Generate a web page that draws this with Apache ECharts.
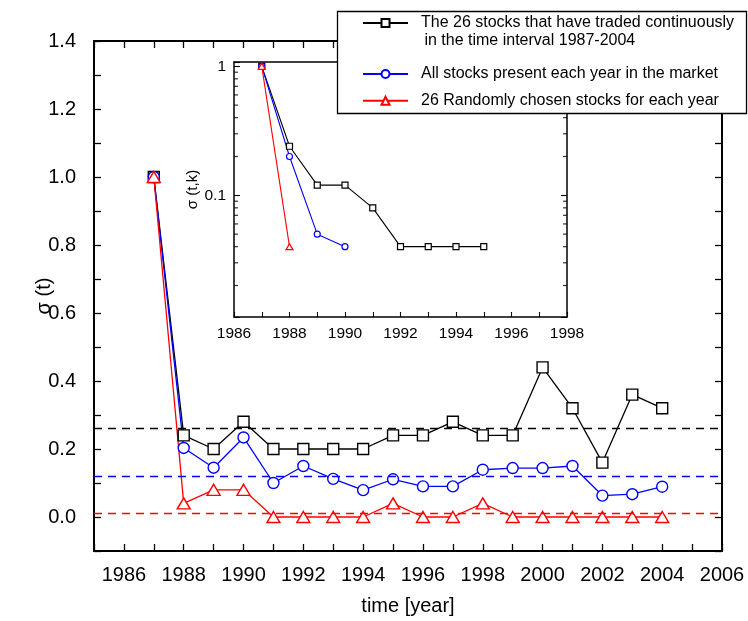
<!DOCTYPE html>
<html>
<head>
<meta charset="utf-8">
<script src="https://cdn.jsdelivr.net/npm/echarts@6/dist/echarts.min.js"></script>
<style>
  html, body { margin: 0; padding: 0; background: #fff; }
  #chart { width: 748px; height: 621px; }
</style>
</head>
<body>
<div id="chart"></div>
<script>
// main panel
const years = [1987, 1988, 1989, 1990, 1991, 1992, 1993, 1994, 1995, 1996, 1997, 1998, 1999, 2000, 2001, 2002, 2003, 2004];
const fixed26 = [1.0, 0.24, 0.20, 0.28, 0.20, 0.20, 0.20, 0.20, 0.24, 0.24, 0.28, 0.24, 0.24, 0.44, 0.32, 0.16, 0.36, 0.32];
const allStocks = [1.0, 0.203, 0.145, 0.234, 0.10, 0.150, 0.112, 0.079, 0.111, 0.090, 0.090, 0.139, 0.144, 0.144, 0.150, 0.063, 0.067, 0.089];
const random26 = [1.0, 0.04, 0.08, 0.08, 0, 0, 0, 0, 0.04, 0, 0, 0.04, 0, 0, 0, 0, 0, 0];
const meanFixed = 0.256;
const meanAll = 0.124;
const meanRandom = 0.015;

// inset (log scale)
const insetYearsFixed = [1987, 1988, 1989, 1990, 1991, 1992, 1993, 1994, 1995];
const insetFixed = [1.0, 0.24, 0.12, 0.12, 0.08, 0.04, 0.04, 0.04, 0.04];
const insetYearsAll = [1987, 1988, 1989, 1990];
const insetAll = [1.0, 0.20, 0.05, 0.04];
const insetYearsRandom = [1987, 1988];
const insetRandom = [1.0, 0.04];
const logMinorTicks = [0.02, 0.03, 0.04, 0.05, 0.06, 0.07, 0.08, 0.09, 0.2, 0.3, 0.4, 0.5, 0.6, 0.7, 0.8, 0.9];

const names = [
  'The 26 stocks that have traded continuously',
  'All stocks present each year in the market',
  '26 Randomly chosen stocks for each year'
];
const colors = ['#000000', '#0000ff', '#ff0000'];

const FONT = 'Liberation Sans, Arial, sans-serif';

function pairs(xs, ys) {
  return xs.map((x, i) => [x, ys[i]]);
}

const chart = echarts.init(document.getElementById('chart'));

function mainSeries(idx, vals, symbol, size, mean) {
  return {
    name: names[idx],
    type: 'line',
    xAxisIndex: 0,
    yAxisIndex: 0,
    data: pairs(years, vals),
    symbol: symbol,
    symbolSize: size,
    showAllSymbol: true,
    lineStyle: { color: colors[idx], width: 1.3 },
    itemStyle: { color: '#fff', borderColor: colors[idx], borderWidth: 1.4 },
    emphasis: { disabled: true },
    animation: false,
    markLine: {
      silent: true,
      symbol: 'none',
      label: { show: false },
      lineStyle: { color: colors[idx], type: [8, 6], width: 1.4 },
      data: [{ yAxis: mean }]
    }
  };
}

function insetSeries(idx, xs, vals, symbol, size) {
  return {
    name: names[idx] + ' (inset)',
    type: 'line',
    xAxisIndex: 2,
    yAxisIndex: 2,
    data: pairs(xs, vals),
    symbol: symbol,
    symbolSize: size,
    showAllSymbol: true,
    lineStyle: { color: colors[idx], width: 1.1 },
    itemStyle: { color: '#fff', borderColor: colors[idx], borderWidth: 1.2 },
    emphasis: { disabled: true },
    animation: false
  };
}

function minorTickSeries(xVal, offset, yIdx) {
  return {
    type: 'scatter',
    xAxisIndex: 2,
    yAxisIndex: yIdx,
    data: logMinorTicks.map(v => [xVal, v]),
    symbol: 'rect',
    symbolSize: [4, 1.2],
    symbolOffset: [offset, 0],
    itemStyle: { color: '#000' },
    silent: true,
    clip: false,
    animation: false
  };
}

const option = {
  backgroundColor: '#fff',
  animation: false,
  textStyle: { fontFamily: FONT },
  grid: [
    { left: 94, right: 26, top: 41, bottom: 70 },
    { left: 234, top: 62, width: 333, height: 255 }
  ],
  xAxis: [
    {
      type: 'value', gridIndex: 0, min: 1985, max: 2006, interval: 1,
      name: 'time [year]', nameLocation: 'middle', nameGap: 45, nameMoveOverlap: false,
      nameTextStyle: { fontSize: 20, color: '#000', fontFamily: FONT },
      axisLine: { onZero: false, lineStyle: { color: '#000', width: 2 } },
      axisTick: { inside: true, length: 7, lineStyle: { color: '#000', width: 1.3 } },
      axisLabel: {
        fontSize: 20, color: '#000', margin: 14, fontFamily: FONT,
        formatter: v => (v % 2 === 0 ? String(v) : '')
      },
      splitLine: { show: false }
    },
    {
      type: 'value', gridIndex: 0, position: 'top', min: 1985, max: 2006, interval: 1,
      axisLine: { onZero: false, lineStyle: { color: '#000', width: 2 } },
      axisTick: { inside: true, length: 7, lineStyle: { color: '#000', width: 1.3 } },
      axisLabel: { show: false },
      splitLine: { show: false }
    },
    {
      type: 'value', gridIndex: 1, min: 1986, max: 1998, interval: 1,
      axisLine: { onZero: false, lineStyle: { color: '#000', width: 1.5 } },
      axisTick: { inside: true, length: 5, lineStyle: { color: '#000', width: 1.1 } },
      axisLabel: {
        fontSize: 15.5, color: '#000', margin: 9, fontFamily: FONT,
        formatter: v => (v % 2 === 0 ? String(v) : '')
      },
      splitLine: { show: false }
    },
    {
      type: 'value', gridIndex: 1, position: 'top', min: 1986, max: 1998, interval: 1,
      axisLine: { onZero: false, lineStyle: { color: '#000', width: 1.5 } },
      axisTick: { show: false },
      axisLabel: { show: false },
      splitLine: { show: false }
    }
  ],
  yAxis: [
    {
      type: 'value', gridIndex: 0, min: -0.1, max: 1.4, interval: 0.1,
      name: 'σ (t)', nameLocation: 'middle', nameGap: 40, nameMoveOverlap: false,
      nameTextStyle: { fontSize: 20, color: '#000', fontFamily: FONT },
      axisLine: { onZero: false, lineStyle: { color: '#000', width: 2 } },
      axisTick: { inside: true, length: 7, lineStyle: { color: '#000', width: 1.3 } },
      axisLabel: {
        fontSize: 20, color: '#000', margin: 18, fontFamily: FONT,
        formatter: v => {
          const k = Math.round(v * 10);
          return (k >= 0 && k % 2 === 0) ? (k / 10).toFixed(1) : '';
        }
      },
      splitLine: { show: false }
    },
    {
      type: 'value', gridIndex: 0, position: 'right', min: -0.1, max: 1.4, interval: 0.1,
      axisLine: { onZero: false, lineStyle: { color: '#000', width: 2 } },
      axisTick: { inside: true, length: 7, lineStyle: { color: '#000', width: 1.3 } },
      axisLabel: { show: false },
      splitLine: { show: false }
    },
    {
      type: 'log', logBase: 10, gridIndex: 1, min: 0.0114, max: 1.08,
      name: 'σ (t,k)', nameLocation: 'middle', nameGap: 34, nameMoveOverlap: false,
      nameTextStyle: { fontSize: 15, color: '#000', fontFamily: FONT },
      axisLine: { onZero: false, lineStyle: { color: '#000', width: 1.5 } },
      axisTick: { inside: true, length: 6, lineStyle: { color: '#000', width: 1.1 } },
      axisLabel: {
        fontSize: 15.5, color: '#000', margin: 8, fontFamily: FONT,
        formatter: v => {
          if (Math.abs(v - 1) < 1e-6) return '1';
          if (Math.abs(v - 0.1) < 1e-6) return '0.1';
          return '';
        }
      },
      splitLine: { show: false }
    },
    {
      type: 'log', logBase: 10, gridIndex: 1, position: 'right', min: 0.0114, max: 1.08,
      axisLine: { onZero: false, lineStyle: { color: '#000', width: 1.5 } },
      axisTick: { inside: true, length: 6, lineStyle: { color: '#000', width: 1.1 } },
      axisLabel: { show: false },
      splitLine: { show: false }
    }
  ],
  legend: [
    {
      data: [names[0]],
      left: 362, top: 14, padding: 0, z: 100,
      itemWidth: 45, itemHeight: 10,
      textStyle: { fontSize: 16, color: '#000', fontFamily: FONT, lineHeight: 18, padding: [0, 0, 0, 8] },
      selectedMode: false
    },
    {
      data: [names[1], names[2]],
      orient: 'vertical',
      left: 362, top: 65, padding: 0, itemGap: 8.7, z: 100,
      itemWidth: 45, itemHeight: 10,
      textStyle: { fontSize: 16, color: '#000', fontFamily: FONT, lineHeight: 18, padding: [0, 0, 0, 8] },
      selectedMode: false
    }
  ],
  graphic: [
    {
      type: 'rect', z: 50,
      shape: { x: 337.5, y: 11.5, width: 409, height: 102 },
      style: { fill: '#fff', stroke: '#000', lineWidth: 1.3 }
    },
    {
      type: 'text', z: 101, left: 420, top: 33,
      style: { text: ' in the time interval 1987-2004', fontSize: 16, fontFamily: FONT, fill: '#000' }
    }
  ],
  series: [
    mainSeries(0, fixed26, 'rect', 11, meanFixed),
    mainSeries(1, allStocks, 'circle', 11, meanAll),
    mainSeries(2, random26, 'triangle', [13, 11], meanRandom),
    insetSeries(0, insetYearsFixed, insetFixed, 'rect', 6),
    insetSeries(1, insetYearsAll, insetAll, 'circle', 6),
    insetSeries(2, insetYearsRandom, insetRandom, 'triangle', [7, 6]),
    minorTickSeries(1986, 2, 2),
    minorTickSeries(1998, -2, 2)
  ]
};

chart.setOption(option);
</script>
</body>
</html>
